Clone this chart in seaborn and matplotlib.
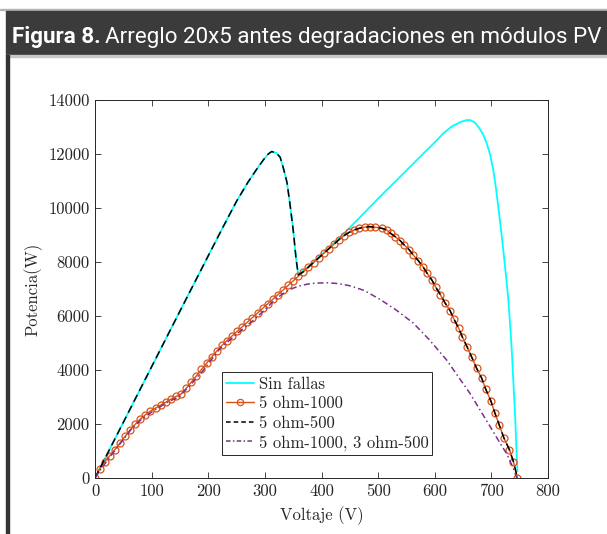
import matplotlib
matplotlib.use("Agg")
import matplotlib.pyplot as plt
import matplotlib.ticker as ticker
from matplotlib import font_manager
from matplotlib.patches import Rectangle
from matplotlib.lines import Line2D
import seaborn as sns

# --- DATOS ---
# Sin fallas: primera joroba, caida, y segunda joroba
sin_v = [0, 50, 100, 150, 200, 225, 250, 270, 285, 298, 306, 312, 320, 327, 333, 339, 344, 350,
         355, 359,
         368, 377, 386, 400, 415, 433, 470, 500, 539, 580, 600, 615, 630, 645, 655, 662, 670, 678,
         686, 692, 698, 703, 708, 713, 717, 721, 726, 730, 733, 736, 739, 742, 744, 746]
sin_p = [0, 2060, 4120, 6180, 8230, 9250, 10250, 10950, 11420, 11800, 12000, 12090, 12040, 11880,
         11450, 10950, 10200, 9190, 8140, 7520,
         7680, 7840, 8000, 8280, 8560, 8920, 9700, 10350, 11160, 12020, 12430, 12760, 13020, 13180,
         13250, 13260, 13180, 12980, 12700, 12380, 11960, 11450, 10750, 9900, 9200, 8450, 7450,
         6600, 5700, 4740, 3500, 2270, 1200, 250]

# 5 ohm-1000 (curva con circulos)
o_v = [0, 8, 17, 26, 35, 44, 53, 62, 71, 80, 89, 98, 107, 116, 125, 134, 143, 152, 161, 170, 179,
       188, 197, 206, 215, 224, 233, 242, 251, 260, 269, 278, 287, 296, 305, 314, 323, 332, 341,
       350, 359, 368, 377, 386, 395, 404, 413, 422, 431, 440, 449, 458, 467, 476, 485, 494,
       506, 515, 522, 530, 539, 546, 555, 562, 571, 579, 586, 595, 602, 610, 618, 627, 634, 642,
       649, 657, 665, 674, 683, 690, 699, 706, 714, 722, 732, 739, 746]
o_p = [0, 330, 600, 820, 1050, 1290, 1540, 1780, 1990, 2180, 2340, 2480, 2590, 2700, 2810, 2920,
       3020, 3110, 3320, 3550, 3780, 4020, 4250, 4480, 4700, 4910, 5090, 5260, 5430, 5600, 5770,
       5940, 6110, 6280, 6450, 6620, 6790, 6960, 7130, 7300, 7470, 7640, 7810, 7980, 8150, 8320,
       8490, 8660, 8830, 8980, 9100, 9190, 9250, 9290, 9310, 9290,
       9250, 9190, 9060, 8940, 8790, 8630, 8450, 8260, 8050, 7830, 7600, 7330, 7060, 6790, 6490,
       6200, 5880, 5560, 5210, 4860, 4490, 4060, 3690, 3290, 2860, 2420, 1960, 1490, 1040, 600, 0]

# 5 ohm-500: igual a "Sin fallas" hasta la caida, luego sigue a 5 ohm-1000
b_v = sin_v[:20] + o_v[41:]
b_p = sin_p[:20] + o_p[41:]

# 5 ohm-1000, 3 ohm-500
m_v = [0, 10, 25, 48, 66, 84, 107, 131, 148, 166, 190, 221, 250, 279, 300, 315, 330, 345, 360, 375,
       390, 411, 430, 450, 475, 503, 530, 562, 590, 621, 640, 662, 680, 698, 715, 727, 738, 745]
m_p = [0, 320, 740, 1370, 1860, 2210, 2540, 2840, 3000, 3390, 3960, 4800, 5330, 5830, 6230, 6550,
       6800, 6990, 7110, 7180, 7220, 7230, 7200, 7120, 6950, 6620, 6250, 5740, 5130, 4370, 3800,
       3140, 2520, 1900, 1300, 900, 400, 0]

x_ticks = [0, 100, 200, 300, 400, 500, 600, 700, 800]
y_ticks = [0, 2000, 4000, 6000, 8000, 10000, 12000, 14000]

labels = ["Sin fallas", "5 ohm-1000", "5 ohm-500", "5 ohm-1000, 3 ohm-500"]
colors = ["#00FFFF", "#D95319", "#000000", "#7E2F8E"]

TITULO_B = "Figura 8."
TITULO_R = "Arreglo 20x5 antes degradaciones en módulos PV"

# --- ESTILO ---
sns.set_style("ticks")
plt.rcParams["font.family"] = ["cmr10", "DejaVu Serif"]
plt.rcParams["mathtext.fontset"] = "cm"
plt.rcParams["axes.formatter.use_mathtext"] = True
plt.rcParams["axes.unicode_minus"] = False
plt.rcParams["xtick.direction"] = "in"
plt.rcParams["ytick.direction"] = "in"

fig = plt.figure(figsize=(6.07, 5.34), dpi=100)
ax = fig.add_axes([95 / 607, 1 - 478 / 534, 453 / 607, 378 / 534])

sns.lineplot(x=sin_v, y=sin_p, ax=ax, color=colors[0], lw=1.3, estimator=None, sort=False)
sns.lineplot(x=o_v, y=o_p, ax=ax, color=colors[1], lw=1.0, marker="o", markersize=5,
             markerfacecolor="none", markeredgecolor=colors[1], markeredgewidth=0.9,
             estimator=None, sort=False)
sns.lineplot(x=b_v, y=b_p, ax=ax, color=colors[2], lw=1.1, estimator=None, sort=False,
             linestyle=(0, (5, 3)))
sns.lineplot(x=m_v, y=m_p, ax=ax, color=colors[3], lw=1.1, estimator=None, sort=False,
             linestyle=(0, (4, 2, 1, 2)))

ax.set_xlim(0, 800)
ax.set_ylim(0, 14000)
ax.set_xticks(x_ticks)
ax.set_yticks(y_ticks)
ax.yaxis.set_major_formatter(ticker.FuncFormatter(lambda v, p: f"{int(v)}"))
ax.xaxis.set_major_formatter(ticker.FuncFormatter(lambda v, p: f"{int(v)}"))
ax.tick_params(axis="both", which="both", direction="in", top=True, right=True,
               length=4, width=0.6, colors="#262626", labelsize=12, pad=4)
for s in ax.spines.values():
    s.set_visible(True)
    s.set_linewidth(0.7)
    s.set_color("#262626")

ax.set_xlabel("Voltaje (V)", fontsize=12, color="#262626", labelpad=5)
ax.set_ylabel("Potencia(W)", fontsize=12, color="#262626", labelpad=4)

handles = [
    Line2D([], [], color=colors[0], lw=1.3),
    Line2D([], [], color=colors[1], lw=1.0, marker="o", markersize=4.5,
           markerfacecolor="none", markeredgewidth=0.9),
    Line2D([], [], color=colors[2], lw=1.1, linestyle=(0, (3, 2))),
    Line2D([], [], color=colors[3], lw=1.1, linestyle=(0, (3, 1.5, 1, 1.5))),
]
leg = ax.legend(handles, labels, loc="upper left", bbox_to_anchor=(0.28, 0.28),
                fontsize=12, frameon=True, fancybox=False, framealpha=1,
                edgecolor="#262626", handlelength=1.7, handletextpad=0.25,
                labelspacing=0.25, borderpad=0.25, borderaxespad=0)
leg.get_frame().set_linewidth(0.7)

# --- CABECERA ---
fig.patches.append(Rectangle((0, 1 - 10 / 534), 1, 1 / 534, transform=fig.transFigure,
                             color="#b5b5b5", zorder=0))
fig.patches.append(Rectangle((6 / 607, 1 - 55 / 534), 1, 44 / 534, transform=fig.transFigure,
                             color="#3b3b3b", zorder=0))
fig.patches.append(Rectangle((6 / 607, 1 - 57 / 534), 1, 2 / 534, transform=fig.transFigure,
                             color="#c8c8c8", zorder=0))
fig.patches.append(Rectangle((6 / 607, 0), 2.5 / 607, 1 - 55 / 534, transform=fig.transFigure,
                             color="#333333", zorder=0))

names = {f.name for f in font_manager.fontManager.ttflist}
hdr_font = "Liberation Sans Narrow" if "Liberation Sans Narrow" in names else "Roboto"

fs = 18
fig.canvas.draw()
renderer = fig.canvas.get_renderer()
for _ in range(3):
    t1 = fig.text(12 / 607, 1 - 43 / 534, TITULO_B, fontsize=fs, fontweight="bold",
                  color="white", family=hdr_font, va="baseline")
    w1 = t1.get_window_extent(renderer)
    t2 = fig.text((w1.x1 + 4) / 607, 1 - 43 / 534, TITULO_R, fontsize=fs, color="white",
                  family=hdr_font, va="baseline")
    w2 = t2.get_window_extent(renderer)
    total = w2.x1 - w1.x0
    if abs(total - 588) < 4:
        break
    fs = fs * 588 / total
    t1.remove()
    t2.remove()

fig.savefig("out.png", dpi=100)
